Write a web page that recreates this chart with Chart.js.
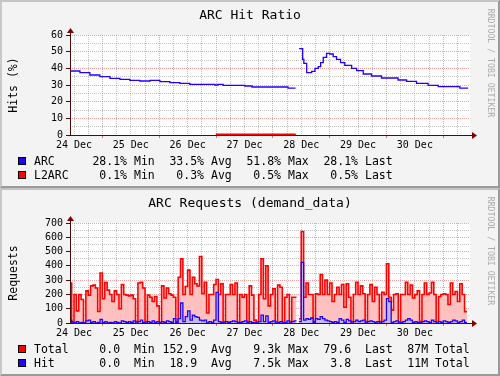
<!DOCTYPE html>
<html><head><meta charset="utf-8">
<script src="https://cdn.jsdelivr.net/npm/chart.js@4.4.0/dist/chart.umd.min.js"></script>
<style>
html,body{margin:0;padding:0;background:#fff;}
body{width:500px;height:376px;overflow:hidden;position:relative;font-family:"DejaVu Sans Mono",monospace;}
.panel{position:absolute;left:0;width:500px;height:188px;background:#f3f3f3;}
.panel canvas{position:absolute;left:0;top:0;}
.frame{position:absolute;left:0;top:0;width:500px;height:188px;box-sizing:border-box;border-top:2px solid #c4c4c4;border-left:2px solid #c8c8c8;border-right:2px solid #9a9a9a;border-bottom:2px solid #9a9a9a;pointer-events:none;}
.t{position:absolute;white-space:pre;color:#000;}
.title{left:0;top:7px;width:500px;height:16px;line-height:16px;text-align:center;font-size:13px;}
.ylab{width:100px;height:14px;line-height:14px;text-align:center;font-size:11.5px;transform:rotate(-90deg);}
.wm{width:130px;height:10px;line-height:10px;text-align:center;font-size:8.2px;color:#ababab;transform:rotate(90deg);}
.leg{font-size:11.5px;height:14px;line-height:14px;}
.box{position:absolute;width:8px;height:8px;box-sizing:border-box;border:1px solid #000;}
</style>
</head>
<body>
<div class="panel" id="p1" style="top:0"><canvas id="c1" width="500" height="188" style="width:500px;height:188px"></canvas><div class="frame"></div></div>
<div class="panel" id="p2" style="top:188px"><canvas id="c2" width="500" height="188" style="width:500px;height:188px"></canvas><div class="frame"></div></div>
<script>
// ---------- data ----------
// x values are hours after 24 Dec 00:00
const X_MIN = 10.3, X_MAX = 179.3;
const dayLabels = ['24 Dec','25 Dec','26 Dec','27 Dec','28 Dec','29 Dec','30 Dec'];

// ARC hit ratio (%)
const arcHours  = [10.3,14.5,18.7,22.9,27.2,31.4,35.6,39.8,44.1,48.3,52.5,56.7,60.9,71.5,72.8,75.0,84.2,87.2,102.4,105.6,
                   107.1,108.6,109.1,110.3,112.4,113.8,115.2,116.2,117.3,118.7,120.1,121.5,122.9,124.6,126.4,129.3,131.4,134.2,137.7,141.9,148.9,152.5,156.7,161.6,165.9,175.0,178.5];
const arcValues = [38.4,37.4,36.0,35.0,34.0,33.4,32.8,32.4,32.8,32.0,31.4,31.0,30.4,30.0,30.4,29.8,29.4,28.8,28.1,null,
                   51.8,45.4,43.0,37.4,38.2,40.0,41.0,43.4,46.6,49.0,48.6,47.0,45.4,43.4,41.8,40.0,38.6,36.6,35.4,34.2,33.0,32.2,31.0,29.8,29.0,28.1,28.1];
// L2ARC hit ratio (%) (only visible above the axis where it is 0.5)
const l2arcHours  = [71.9, 105.7];
const l2arcValues = [0.5, null];

// ARC requests, hourly from hour REQ_START
const REQ_START = 10;
const totalValues = [
 280,10,200,85,200,165,0,225,195,260,
 265,245,80,350,170,283,230,200,150,225,
 200,100,270,200,195,190,195,170,10,280,
 285,245,10,195,180,150,185,120,5,260,
 175,245,205,195,180,10,320,450,200,255,
 370,200,320,275,260,465,205,285,70,200,
 200,270,305,200,275,10,200,200,270,200,
 280,5,200,180,200,10,260,195,20,10,
 200,450,170,400,120,200,240,10,265,250,
 5,180,200,10,180,180,null,30,640,180,
 280,200,200,10,205,200,340,200,300,200,
 280,150,200,250,200,270,110,275,180,10,
 200,285,200,260,205,10,200,270,150,250,
 200,10,215,200,415,180,90,200,205,10,
 200,200,285,200,265,175,200,225,10,200,
 280,200,210,285,200,10,185,200,205,200,
 130,280,200,220,150,275,200,79.6];
const hitValues = [
 20,5,5,10,0,5,0,15,20,5,
 10,0,5,25,5,10,0,5,0,10,
 5,0,15,10,5,10,5,15,0,10,
 20,5,0,10,5,15,5,10,0,10,
 5,15,10,5,30,5,30,140,10,45,
 85,20,55,45,40,20,15,20,0,10,
 5,20,215,10,5,0,10,5,10,15,
 10,0,5,10,15,0,10,5,5,0,
 10,55,10,50,5,10,15,0,5,10,
 0,5,15,0,10,15,null,10,425,20,
 30,25,35,5,30,25,45,30,20,15,
 10,5,10,5,30,20,5,25,15,0,
 10,20,10,15,20,0,10,15,10,5,
 10,0,10,20,170,150,5,10,15,0,
 5,10,20,30,20,5,10,5,0,10,
 15,10,5,20,10,0,10,5,15,10,
 5,10,20,15,5,10,20,3.8];

// legend texts
const arcStats   = [' 28.1% Min',' 33.5% Avg',' 51.8% Max',' 28.1% Last'];
const l2arcStats = ['  0.1% Min','  0.3% Avg','  0.5% Max','  0.5% Last'];
const totalStats = ['  0.0  Min','152.9  Avg','  9.3k Max',' 79.6  Last','  87M Total'];
const hitStats   = ['  0.0  Min',' 18.9  Avg','  7.5k Max','  3.8  Last','  11M Total'];

// ---------- style ----------
const BLUE = '#2200ff', RED = '#ff0000';
const MAJOR = 'rgba(232,70,70,0.5)', MINOR = 'rgba(140,140,140,0.5)';
const AXIS = '#4a0a0a', ARROW = '#7f0000';
const FONT = 'DejaVu Sans Mono';

function stepPoints(xs, ys){
  const pts = [];
  for (let i = 0; i < xs.length; i++){
    pts.push({x: xs[i], y: ys[i]});
    if (ys[i] !== null && i + 1 < xs.length && ys[i+1] === null) pts.push({x: xs[i+1], y: ys[i]});
  }
  return pts;
}
function hourlyPoints(vals){
  const xs = vals.map((_, i) => REQ_START + i);
  xs.push(REQ_START + vals.length);
  return stepPoints(xs, vals.concat([vals[vals.length-1]]));
}

const bgPlugin = {id:'bg', beforeDraw(chart){
  const {ctx, chartArea:a} = chart; ctx.save(); ctx.fillStyle = '#fff';
  ctx.fillRect(a.left, a.top, a.right - a.left, a.bottom - a.top); ctx.restore();
}};
const axisPlugin = {id:'axes', afterDatasetsDraw(chart){
  const {ctx, chartArea:a} = chart; ctx.save();
  const yb = a.bottom + 0.5, xl = a.left + 0.5;
  ctx.strokeStyle = AXIS; ctx.lineWidth = 1; ctx.beginPath();
  ctx.moveTo(a.left, yb); ctx.lineTo(a.right + 2, yb);
  ctx.moveTo(xl, a.bottom + 1); ctx.lineTo(xl, a.top - 2);
  ctx.stroke();
  ctx.fillStyle = ARROW; ctx.beginPath();
  ctx.moveTo(a.right + 7, yb); ctx.lineTo(a.right + 2, yb - 3.5); ctx.lineTo(a.right + 2, yb + 3.5); ctx.closePath(); ctx.fill();
  ctx.beginPath();
  ctx.moveTo(xl, a.top - 7); ctx.lineTo(xl - 3.5, a.top - 2); ctx.lineTo(xl + 3.5, a.top - 2); ctx.closePath(); ctx.fill();
  ctx.restore();
}};

function makeChart(id, datasets, yMax, yStep, yMajor){
  const gridHours = []; for (let h = 12; h < X_MAX; h += 6) gridHours.push(h);
  const yTicks = []; for (let v = 0; v <= yMax; v += yStep) yTicks.push(v);
  return new Chart(document.getElementById(id), {
    type: 'line',
    data: {datasets},
    options: {
      responsive: false, animation: false, events: [],
      layout: {padding: {left: 0, right: 30, top: 35, bottom: 0}},
      plugins: {legend: {display: false}, tooltip: {enabled: false}, title: {display: false}},
      elements: {point: {radius: 0}, line: {tension: 0}},
      scales: {
        x: {type: 'linear', min: X_MIN, max: X_MAX,
          afterFit(s){ s.height = 53; },
          afterBuildTicks(s){ s.ticks = gridHours.map(v => ({value: v})); },
          ticks: {autoSkip: false, maxRotation: 0, padding: 1, color: '#000', font: {family: FONT, size: 10},
            callback: v => ((v - 12) % 24 === 0 ? dayLabels[(v - 12) / 24] : '')},
          grid: {lineWidth: 1, tickLength: 3,
            color: c => (c.tick && c.tick.value % 24 === 0 ? MAJOR : MINOR),
            tickColor: c => (c.tick && c.tick.value % 24 === 0 ? 'rgba(200,60,60,0.7)' : 'rgba(0,0,0,0)')},
          border: {display: false, dash: [1, 1]}
        },
        y: {type: 'linear', min: 0, max: yMax,
          afterFit(s){ s.width = 70; },
          afterBuildTicks(s){ s.ticks = yTicks.map(v => ({value: v})); },
          ticks: {autoSkip: false, padding: 3, color: '#000', font: {family: FONT, size: 10},
            callback: v => (v % yMajor === 0 ? String(v) : '')},
          grid: {lineWidth: 1, tickLength: 4,
            color: c => (c.tick && c.tick.value % yMajor === 0 ? MAJOR : MINOR),
            tickColor: c => (c.tick && c.tick.value % yMajor === 0 ? AXIS : 'rgba(0,0,0,0)')},
          border: {display: false, dash: [1, 1]}
        }
      }
    },
    plugins: [bgPlugin, axisPlugin]
  });
}

makeChart('c1', [
  {label: 'ARC', data: stepPoints(arcHours, arcValues), borderColor: BLUE, borderWidth: 1.3, stepped: true, fill: false, spanGaps: false},
  {label: 'L2ARC', data: stepPoints(l2arcHours, l2arcValues), borderColor: RED, borderWidth: 1.5, stepped: true, fill: false, spanGaps: false}
], 60, 5, 10);

makeChart('c2', [
  {label: 'Hit', data: hourlyPoints(hitValues), borderColor: BLUE, backgroundColor: '#c2baf4', borderWidth: 1.3, stepped: true, fill: 'origin', spanGaps: false},
  {label: 'Total', data: hourlyPoints(totalValues), borderColor: RED, backgroundColor: '#ffc0c0', borderWidth: 1.6, stepped: true, fill: 'origin', spanGaps: false}
], 700, 50, 100);

// ---------- texts ----------
const itemX = [85.5, 162.5, 239.5, 316.5, 393.5];
function addText(panel, cls, text, style){
  const d = document.createElement('div'); d.className = 't ' + cls; d.textContent = text;
  Object.assign(d.style, style); document.getElementById(panel).appendChild(d); return d;
}
function legendRow(panel, yc, name, color, stats){
  const b = document.createElement('div'); b.className = 'box';
  Object.assign(b.style, {left: '18px', top: (yc - 4) + 'px', background: color});
  document.getElementById(panel).appendChild(b);
  addText(panel, 'leg', name, {left: '34px', top: (yc - 7) + 'px'});
  stats.forEach((s, i) => addText(panel, 'leg', s, {left: itemX[i] + 'px', top: (yc - 7) + 'px'}));
}
function panelTexts(panel, title, ylab, rows){
  addText(panel, 'title', title, {});
  addText(panel, 'ylab', ylab, {left: (13.3 - 50) + 'px', top: (85 - 7) + 'px'});
  addText(panel, 'wm', 'RRDTOOL / TOBI OETIKER', {left: (491 - 65) + 'px', top: (62.5 - 5) + 'px'});
  rows.forEach((r, i) => legendRow(panel, 161 + 14 * i, r[0], r[1], r[2]));
}
panelTexts('p1', 'ARC Hit Ratio', 'Hits (%)', [['ARC', BLUE, arcStats], ['L2ARC', RED, l2arcStats]]);
panelTexts('p2', 'ARC Requests (demand_data)', 'Requests', [['Total', RED, totalStats], ['Hit', BLUE, hitStats]]);
</script>
</body></html>
